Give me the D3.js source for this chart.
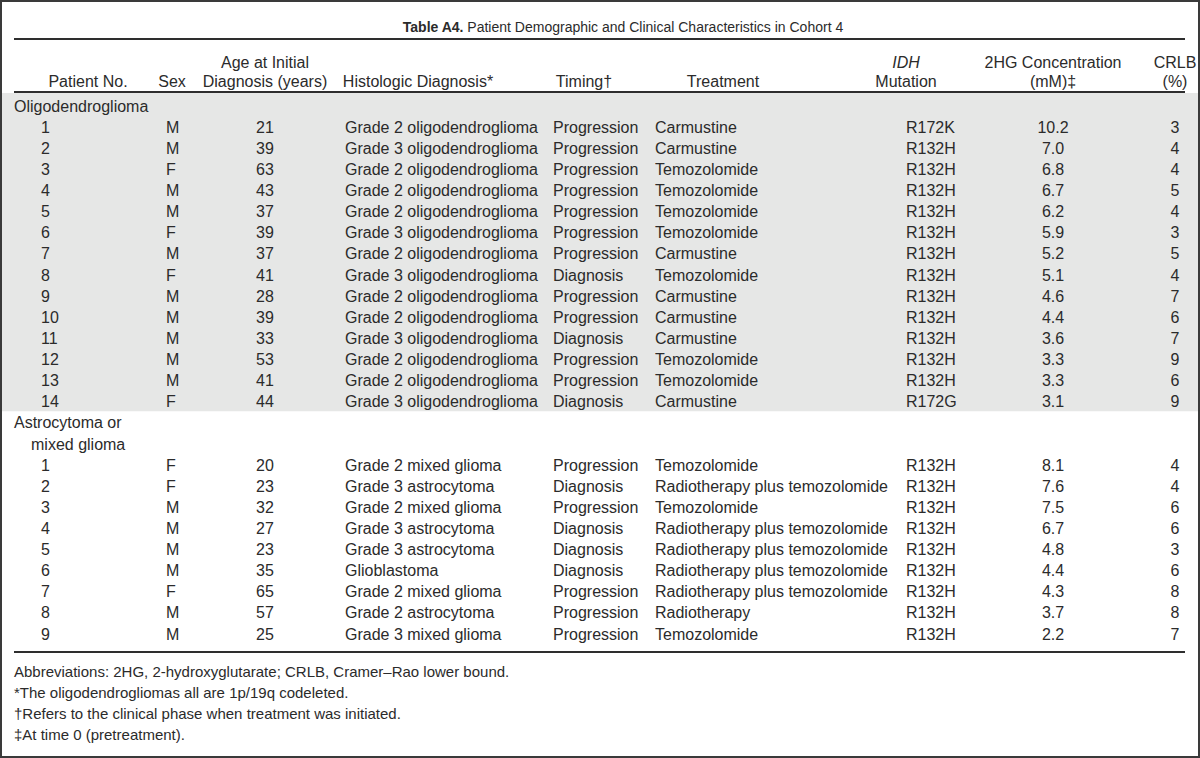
<!DOCTYPE html>
<html>
<head>
<meta charset="utf-8">
<script src="https://cdn.jsdelivr.net/npm/d3@7"></script>
<style>
  html, body { margin: 0; padding: 0; background: #fff; }
  svg { display: block; }
  text { font-family: "Liberation Sans", Arial, sans-serif; font-size: 16px; fill: #2b2b2b; }
  text.fn { font-size: 15px; }
  text.title { font-size: 14px; }
</style>
</head>
<body>
<svg id="chart" width="1200" height="758"></svg>
<script>
// ---- DATA ----
const titleBold = "Table A4.";
const titleRest = " Patient Demographic and Clinical Characteristics in Cohort 4";

const columnKeys = ["no", "sex", "age", "hist", "timing", "treat", "mut", "conc", "crlb"];
const headerLine1 = ["", "", "Age at Initial", "", "", "", "IDH", "2HG Concentration", "CRLB"];
const headerLine2 = ["Patient No.", "Sex", "Diagnosis (years)", "Histologic Diagnosis*", "Timing\u2020", "Treatment", "Mutation", "(mM)\u2021", "(%)"];

const groupLabels = [["Oligodendroglioma"], ["Astrocytoma or", "mixed glioma"]];

// Oligodendroglioma
const oligoNo = [1, 2, 3, 4, 5, 6, 7, 8, 9, 10, 11, 12, 13, 14];
const oligoSex = ["M", "M", "F", "M", "M", "F", "M", "F", "M", "M", "M", "M", "M", "F"];
const oligoAge = [21, 39, 63, 43, 37, 39, 37, 41, 28, 39, 33, 53, 41, 44];
const oligoHist = ["Grade 2 oligodendroglioma", "Grade 3 oligodendroglioma", "Grade 2 oligodendroglioma", "Grade 2 oligodendroglioma", "Grade 2 oligodendroglioma", "Grade 3 oligodendroglioma", "Grade 2 oligodendroglioma", "Grade 3 oligodendroglioma", "Grade 2 oligodendroglioma", "Grade 2 oligodendroglioma", "Grade 3 oligodendroglioma", "Grade 2 oligodendroglioma", "Grade 2 oligodendroglioma", "Grade 3 oligodendroglioma"];
const oligoTiming = ["Progression", "Progression", "Progression", "Progression", "Progression", "Progression", "Progression", "Diagnosis", "Progression", "Progression", "Diagnosis", "Progression", "Progression", "Diagnosis"];
const oligoTreat = ["Carmustine", "Carmustine", "Temozolomide", "Temozolomide", "Temozolomide", "Temozolomide", "Carmustine", "Temozolomide", "Carmustine", "Carmustine", "Carmustine", "Temozolomide", "Temozolomide", "Carmustine"];
const oligoMut = ["R172K", "R132H", "R132H", "R132H", "R132H", "R132H", "R132H", "R132H", "R132H", "R132H", "R132H", "R132H", "R132H", "R172G"];
const oligoConc = ["10.2", "7.0", "6.8", "6.7", "6.2", "5.9", "5.2", "5.1", "4.6", "4.4", "3.6", "3.3", "3.3", "3.1"];
const oligoCrlb = [3, 4, 4, 5, 4, 3, 5, 4, 7, 6, 7, 9, 6, 9];

// Astrocytoma or mixed glioma
const astroNo = [1, 2, 3, 4, 5, 6, 7, 8, 9];
const astroSex = ["F", "F", "M", "M", "M", "M", "F", "M", "M"];
const astroAge = [20, 23, 32, 27, 23, 35, 65, 57, 25];
const astroHist = ["Grade 2 mixed glioma", "Grade 3 astrocytoma", "Grade 2 mixed glioma", "Grade 3 astrocytoma", "Grade 3 astrocytoma", "Glioblastoma", "Grade 2 mixed glioma", "Grade 2 astrocytoma", "Grade 3 mixed glioma"];
const astroTiming = ["Progression", "Diagnosis", "Progression", "Diagnosis", "Diagnosis", "Diagnosis", "Progression", "Progression", "Progression"];
const astroTreat = ["Temozolomide", "Radiotherapy plus temozolomide", "Temozolomide", "Radiotherapy plus temozolomide", "Radiotherapy plus temozolomide", "Radiotherapy plus temozolomide", "Radiotherapy plus temozolomide", "Radiotherapy", "Temozolomide"];
const astroMut = ["R132H", "R132H", "R132H", "R132H", "R132H", "R132H", "R132H", "R132H", "R132H"];
const astroConc = ["8.1", "7.6", "7.5", "6.7", "4.8", "4.4", "4.3", "3.7", "2.2"];
const astroCrlb = [4, 4, 6, 6, 3, 6, 8, 8, 7];

const footnotes = [
  "Abbreviations: 2HG, 2-hydroxyglutarate; CRLB, Cramer\u2013Rao lower bound.",
  "*The oligodendrogliomas all are 1p/19q codeleted.",
  "\u2020Refers to the clinical phase when treatment was initiated.",
  "\u2021At time 0 (pretreatment)."
];

// ---- BUILD ROWS ----
function buildRows(no, sex, age, hist, timing, treat, mut, conc, crlb) {
  return no.map((d, i) => ({ no: d, sex: sex[i], age: age[i], hist: hist[i], timing: timing[i], treat: treat[i], mut: mut[i], conc: conc[i], crlb: crlb[i] }));
}
const oligoRows = buildRows(oligoNo, oligoSex, oligoAge, oligoHist, oligoTiming, oligoTreat, oligoMut, oligoConc, oligoCrlb);
const astroRows = buildRows(astroNo, astroSex, astroAge, astroHist, astroTiming, astroTreat, astroMut, astroConc, astroCrlb);

// line index layout: 0 = oligo label, 1..14 oligo rows, 15-16 astro label, 17..25 astro rows
const lines = [];
lines.push({ type: "label", text: groupLabels[0][0], indent: 0, idx: 0 });
oligoRows.forEach((r, i) => lines.push({ type: "row", row: r, idx: 1 + i }));
lines.push({ type: "label", text: groupLabels[1][0], indent: 0, idx: 1 + oligoRows.length });
lines.push({ type: "label", text: groupLabels[1][1], indent: 1, idx: 2 + oligoRows.length });
astroRows.forEach((r, i) => lines.push({ type: "row", row: r, idx: 3 + oligoRows.length + i }));
const nLines = lines.length;

// ---- SCALES ----
const svg = d3.select("#chart");
const W = 1200, H = 758;
const y = d3.scaleLinear().domain([0, nLines - 1]).range([106, 634]);
const headerX = d3.scaleOrdinal().domain(columnKeys).range([88, 172, 265, 418, 584, 723, 906, 1053, 1175]);
const cellX = d3.scaleOrdinal().domain(columnKeys).range([41, 166, 265, 345, 553, 655, 906, 1053, 1175]);
const cellAnchor = d3.scaleOrdinal().domain(columnKeys).range(["start", "start", "middle", "start", "start", "start", "start", "middle", "middle"]);
const base = 5.6; // center-to-baseline offset

// Border
svg.append("rect").attr("x", 1).attr("y", 1).attr("width", W - 2).attr("height", H - 2)
  .attr("fill", "none").attr("stroke", "#3a3a3a").attr("stroke-width", 2);

// Shaded oligodendroglioma block
svg.append("rect").attr("x", 2).attr("width", W - 4)
  .attr("y", 93).attr("height", (y(oligoRows.length) + y(oligoRows.length + 1)) / 2 - 93 - 1)
  .attr("fill", "#e6e7e6");

// Title
const title = svg.append("text").attr("class", "title").attr("x", 623).attr("y", 27 + 5).attr("text-anchor", "middle");
title.append("tspan").attr("font-weight", "bold").text(titleBold);
title.append("tspan").text(titleRest);

// Rules
const ruleYs = [39, 92, 652];
svg.selectAll("line.rule").data(ruleYs).join("line").attr("class", "rule")
  .attr("x1", 14).attr("x2", 1185).attr("y1", d => d).attr("y2", d => d)
  .attr("stroke", "#2e2e2e").attr("stroke-width", 2);

// Header
const hdr = columnKeys.map((k, i) => ({ k, l1: headerLine1[i], l2: headerLine2[i] }));
svg.selectAll("text.h1").data(hdr.filter(d => d.l1)).join("text").attr("class", "h1")
  .attr("x", d => headerX(d.k)).attr("y", 62 + base).attr("text-anchor", "middle")
  .attr("font-style", d => d.k === "mut" ? "italic" : null)
  .text(d => d.l1);
svg.selectAll("text.h2").data(hdr).join("text").attr("class", "h2")
  .attr("x", d => headerX(d.k)).attr("y", 81 + base).attr("text-anchor", "middle")
  .text(d => d.l2);

// Body
const labelLines = lines.filter(d => d.type === "label");
svg.selectAll("text.glabel").data(labelLines).join("text").attr("class", "glabel")
  .attr("x", d => d.indent ? 31 : 14).attr("y", d => y(d.idx) + base)
  .text(d => d.text);

const rowLines = lines.filter(d => d.type === "row");
const rowG = svg.selectAll("g.row").data(rowLines).join("g").attr("class", "row")
  .attr("transform", d => `translate(0,${y(d.idx) + base})`);
rowG.selectAll("text").data(d => columnKeys.map(k => ({ k, v: d.row[k] }))).join("text")
  .attr("x", d => cellX(d.k)).attr("text-anchor", d => cellAnchor(d.k))
  .text(d => d.v);

// Footnotes
svg.selectAll("text.fn").data(footnotes).join("text").attr("class", "fn")
  .attr("x", 14).attr("y", (d, i) => 671 + i * 21 + base)
  .text(d => d);
</script>
</body>
</html>
